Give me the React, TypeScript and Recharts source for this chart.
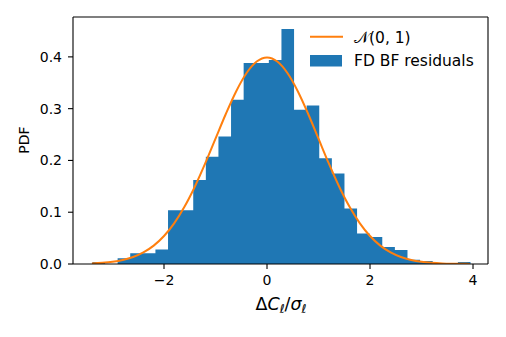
import { ComposedChart, Area, Line, XAxis, YAxis, Legend, ReferenceLine } from 'recharts';

// histogram: 30 equal-width bins, density
const binStart = -3.39;
const binWidth = 0.2447;
const binDensity = [
  0.004, 0.0, 0.011, 0.021, 0.021, 0.028, 0.104, 0.104, 0.162, 0.207,
  0.246, 0.317, 0.388, 0.388, 0.394, 0.454, 0.298, 0.306, 0.204, 0.175,
  0.107, 0.059, 0.052, 0.033, 0.027, 0.008, 0.006, 0.0, 0.0, 0.004,
];

// N(0,1) curve, sampled
const pdfX = [
  -3.4, -3.2, -3.0, -2.8, -2.6, -2.4, -2.2, -2.0, -1.8, -1.6, -1.4, -1.2, -1.0,
  -0.8, -0.6, -0.4, -0.2, 0.0, 0.2, 0.4, 0.6, 0.8, 1.0, 1.2, 1.4, 1.6, 1.8,
  2.0, 2.2, 2.4, 2.6, 2.8, 3.0, 3.2, 3.4, 3.6, 3.8, 3.94,
];
const pdfY = [
  0.0012, 0.0024, 0.0044, 0.0079, 0.0136, 0.0224, 0.0355, 0.054, 0.079, 0.1109,
  0.1497, 0.1942, 0.242, 0.2897, 0.3332, 0.3683, 0.391, 0.3989, 0.391, 0.3683,
  0.3332, 0.2897, 0.242, 0.1942, 0.1497, 0.1109, 0.079, 0.054, 0.0355, 0.0224,
  0.0136, 0.0079, 0.0044, 0.0024, 0.0012, 0.0006, 0.0003, 0.0002,
];

const xTicks = [-2, 0, 2, 4];
const yTicks = [0, 0.1, 0.2, 0.3, 0.4];
const xDomain = [-3.767, 4.291];
const yDomain = [0, 0.477];
const seriesNames = ['𝒩(0, 1)', 'FD BF residuals'];

const histData = [...binDensity, binDensity[binDensity.length - 1]].map((d, i) => ({
  x: binStart + i * binWidth,
  hist: d,
}));
const pdfData = pdfX.map((x, i) => ({ x, pdf: pdfY[i] }));

const FONT = 'DejaVu Sans';
const BLUE = '#1f77b4';
const ORANGE = '#ff7f0e';

const XLabel = () => (
  <text x={281} y={310} textAnchor="middle" fontFamily={FONT} fontSize={17.5} fill="#000">
    <tspan>Δ</tspan>
    <tspan fontStyle="italic">C</tspan>
    <tspan fontStyle="italic" fontSize={12} dy={3}>ℓ</tspan>
    <tspan dy={-3}>/</tspan>
    <tspan fontStyle="italic">σ</tspan>
    <tspan fontStyle="italic" fontSize={12} dy={3}>ℓ</tspan>
  </text>
);

const YLabel = () => (
  <text
    x={24}
    y={140}
    transform="rotate(-90, 24, 140)"
    textAnchor="middle"
    dominantBaseline="central"
    fontFamily={FONT}
    fontSize={14}
    fill="#000"
  >
    PDF
  </text>
);

const LegendBox = () => (
  <svg width={190} height={56} style={{ display: 'block' }}>
    <line x1={10} x2={43} y1={16.7} y2={16.7} stroke={ORANGE} strokeWidth={2} />
    <text x={54} y={23} fontFamily={FONT} fontSize={15.5} fill="#000">{seriesNames[0]}</text>
    <rect x={10} y={35} width={32} height={11.5} fill={BLUE} />
    <text x={54} y={46} fontFamily={FONT} fontSize={15.5} fill="#000">{seriesNames[1]}</text>
  </svg>
);

export default function App() {
  const tickStyle = { fill: '#000', fontSize: 14, fontFamily: FONT };
  const spine = { stroke: '#000', strokeWidth: 1.1 };
  return (
    <div style={{ width: 506, height: 337, background: '#fff' }}>
      <style>{'body{margin:0}'}</style>
      <ComposedChart width={506} height={337} margin={{ top: 17, right: 18, left: 13, bottom: 43 }}>
        <XAxis
          dataKey="x"
          type="number"
          domain={xDomain}
          ticks={xTicks}
          allowDataOverflow
          height={30}
          tick={tickStyle}
          tickSize={5}
          tickMargin={6}
          tickFormatter={(v: number) => String(v).replace('-', '\u2212')}
          axisLine={spine}
          tickLine={spine}
          label={<XLabel />}
        />
        <YAxis
          type="number"
          domain={yDomain}
          ticks={yTicks}
          allowDataOverflow
          width={60}
          tick={tickStyle}
          tickSize={5}
          tickMargin={6}
          tickFormatter={(v: number) => v.toFixed(1)}
          axisLine={spine}
          tickLine={spine}
          label={<YLabel />}
        />
        <Area
          data={histData}
          dataKey="hist"
          name={seriesNames[1]}
          type="stepAfter"
          fill={BLUE}
          fillOpacity={1}
          stroke="none"
          isAnimationActive={false}
        />
        <Line
          data={pdfData}
          dataKey="pdf"
          name={seriesNames[0]}
          type="monotone"
          stroke={ORANGE}
          strokeWidth={2}
          dot={false}
          isAnimationActive={false}
        />
        {/* top and right spines */}
        <ReferenceLine y={yDomain[1]} stroke="#000" strokeWidth={1.1} ifOverflow="visible" />
        <ReferenceLine x={xDomain[1]} stroke="#000" strokeWidth={1.1} ifOverflow="visible" />
        <Legend
          layout="horizontal"
          verticalAlign="middle"
          align="center"
          wrapperStyle={{ position: 'absolute', left: 300, top: 20, width: 190, height: 56 }}
          content={() => <LegendBox />}
        />
      </ComposedChart>
    </div>
  );
}
